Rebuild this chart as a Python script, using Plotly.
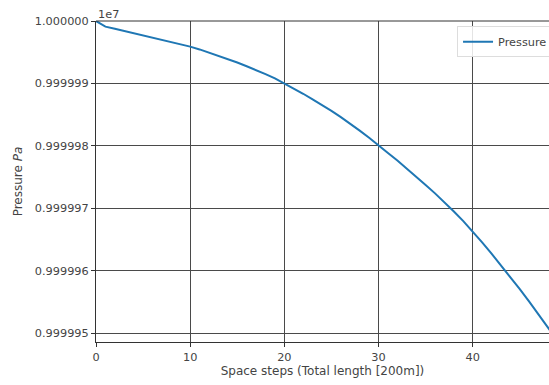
import plotly.graph_objects as go

# Space steps
steps = list(range(50))
# Pressure in Pa
pressure = [
    10000000.0, 9999999.1, 9999998.75, 9999998.4, 9999998.05,
    9999997.7, 9999997.35, 9999997.0, 9999996.6, 9999996.25,
    9999995.9, 9999995.45, 9999994.95, 9999994.45, 9999993.9,
    9999993.35, 9999992.75, 9999992.15, 9999991.5, 9999990.8,
    9999990.0, 9999989.2, 9999988.35, 9999987.45, 9999986.55,
    9999985.6, 9999984.6, 9999983.55, 9999982.45, 9999981.3,
    9999980.0, 9999978.85, 9999977.65, 9999976.4, 9999975.1,
    9999973.75, 9999972.4, 9999971.0, 9999969.5, 9999967.95,
    9999966.3, 9999964.55, 9999962.75, 9999960.9, 9999959.0,
    9999957.05, 9999955.05, 9999953.0, 9999950.9, 9999948.8,
]
y_tickvals = [9999950, 9999960, 9999970, 9999980, 9999990, 10000000]
y_ticktext = ["0.999995", "0.999996", "0.999997", "0.999998", "0.999999", "1.000000"]
x_tickvals = [0, 10, 20, 30, 40]

tick_font = dict(family="DejaVu Sans", size=11.3, color="#444444")
title_font = dict(family="DejaVu Sans", size=12, color="#444444")
fig = go.Figure()
fig.add_trace(go.Scatter(x=steps, y=pressure, mode="lines", name="Pressure",
                         line=dict(color="#1f77b4", width=2)))
axis_common = dict(showline=True, linecolor="#333333", linewidth=1, mirror=False,
                   showgrid=True, gridcolor="#4a4a4a", gridwidth=1, zeroline=False,
                   ticks="outside", ticklen=4, tickcolor="#333333", tickfont=tick_font,
                   automargin=False)
fig.update_layout(
    width=549, height=385,
    margin=dict(l=96, r=0, t=21, b=43, pad=0, autoexpand=False),
    paper_bgcolor="white", plot_bgcolor="white",
    font=tick_font,
    showlegend=True,
    legend=dict(x=0.797, y=0.984, xanchor="left", yanchor="top",
                bgcolor="rgba(255,255,255,0.85)", bordercolor="#dddddd", borderwidth=1,
                font=tick_font, itemwidth=30),
    xaxis=dict(range=[0, 48.1], tickvals=x_tickvals, **axis_common,
               title=dict(text="Space steps (Total length [200m])", font=title_font, standoff=3)),
    yaxis=dict(range=[9999948.6, 10000000.0], tickvals=y_tickvals, ticktext=y_ticktext,
               **axis_common,
               title=dict(text="Pressure <i>Pa</i>", font=title_font, standoff=9)),
    annotations=[dict(text="1e7", xref="paper", yref="paper", x=0, y=1,
                      xanchor="left", yanchor="bottom", showarrow=False,
                      font=tick_font, yshift=-2)],
    shapes=[dict(type="line", xref="paper", yref="paper", x0=0, x1=1, y0=1, y1=1,
                 line=dict(color="#333333", width=1))],
)
fig.write_html("out.html", config={"displayModeBar": False},
               post_script="document.body.style.margin='0';document.body.style.overflow='hidden';")
